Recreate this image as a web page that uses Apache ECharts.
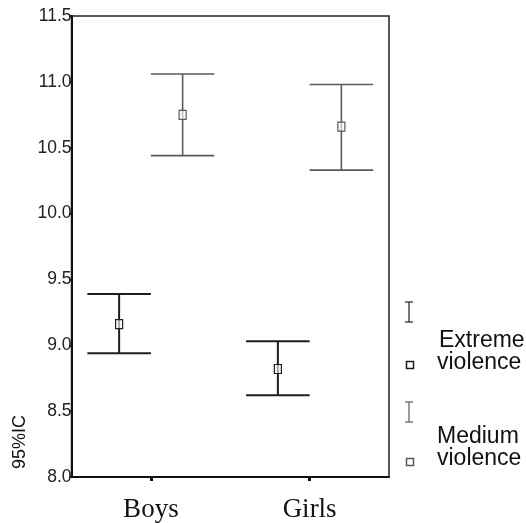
<!DOCTYPE html>
<html>
<head>
<meta charset="utf-8">
<script src="https://cdn.jsdelivr.net/npm/echarts@6/dist/echarts.min.js"></script>
<style>
  html, body { margin: 0; padding: 0; background: #fff; }
  #chart { width: 526px; height: 523px; }
</style>
</head>
<body>
<div id="chart"></div>
<script>
// Groups on the x axis
const categories = ['Boys', 'Girls'];

// Extreme violence: means and 95% confidence limits
const extremeMean = [9.16, 8.82];
const extremeLow = [8.94, 8.62];
const extremeHigh = [9.39, 9.03];

// Medium violence: means and 95% confidence limits
const mediumMean = [10.75, 10.66];
const mediumLow = [10.44, 10.33];
const mediumHigh = [11.06, 10.98];

// Value axis range and step
const yMin = 8.0;
const yMax = 11.5;
const yStep = 0.5;

const extremeColor = '#1e1e1e';
const mediumColor = '#5a5a5a';

function rows(low, high, mean) {
  return categories.map((c, i) => [i, low[i], high[i], mean[i]]);
}

// Error bar with caps and an open square at the mean, shifted inside the band
function makeRenderer(side, color, width) {
  return function (params, api) {
    const cat = api.value(0);
    const band = api.size([1, 0])[0];
    const off = band * 0.2 * side;
    const half = band * 0.2;
    const pHigh = api.coord([cat, api.value(2)]);
    const pLow = api.coord([cat, api.value(1)]);
    const pMean = api.coord([cat, api.value(3)]);
    const x = pHigh[0] + off;
    const st = { stroke: color, lineWidth: width };
    return {
      type: 'group',
      children: [
        { type: 'line', shape: { x1: x, y1: pHigh[1], x2: x, y2: pLow[1] }, style: st },
        { type: 'line', shape: { x1: x - half, y1: pHigh[1], x2: x + half, y2: pHigh[1] }, style: st },
        { type: 'line', shape: { x1: x - half, y1: pLow[1], x2: x + half, y2: pLow[1] }, style: st },
        { type: 'rect', shape: { x: x - 3.5, y: pMean[1] - 4.5, width: 7, height: 9 },
          style: { fill: 'rgba(255,255,255,0.6)', stroke: color, lineWidth: 1.2 } }
      ]
    };
  };
}

// Legend icon: an "I" error bar glyph
function barIcon(x, y1, y2, color) {
  return {
    type: 'group',
    children: [
      { type: 'line', shape: { x1: x, y1: y1, x2: x, y2: y2 }, style: { stroke: color, lineWidth: 1.2 } },
      { type: 'line', shape: { x1: x - 4, y1: y1, x2: x + 4, y2: y1 }, style: { stroke: color, lineWidth: 1.2 } },
      { type: 'line', shape: { x1: x - 4, y1: y2, x2: x + 4, y2: y2 }, style: { stroke: color, lineWidth: 1.2 } }
    ]
  };
}
function squareIcon(x, y, color) {
  return { type: 'rect', shape: { x: x - 3.5, y: y - 3.5, width: 7, height: 7 },
           style: { fill: '#fff', stroke: color, lineWidth: 1.5 } };
}
function legendText(x, y, text) {
  return { type: 'text', x: x, y: y,
           style: { text: text, fill: '#111', font: '23px "Liberation Sans", Arial, sans-serif',
                    textAlign: 'left', textVerticalAlign: 'middle' } };
}

const chart = echarts.init(document.getElementById('chart'));
chart.setOption({
  animation: false,
  backgroundColor: '#fff',
  grid: { left: 71.5, right: 137, top: 16, bottom: 44, show: true, borderColor: '#222', borderWidth: 1.5 },
  xAxis: {
    type: 'category',
    data: categories,
    axisLine: { lineStyle: { color: '#111', width: 2 } },
    axisTick: { show: true, alignWithLabel: true, length: 4, lineStyle: { color: '#111', width: 3 } },
    axisLabel: { color: '#111', fontFamily: '"Liberation Serif", "Times New Roman", serif', fontSize: 27, margin: 19 },
    splitLine: { show: false }
  },
  yAxis: {
    type: 'value',
    min: yMin,
    max: yMax,
    interval: yStep,
    axisLine: { show: true, lineStyle: { color: '#111', width: 2 } },
    axisTick: { show: true, length: 2, lineStyle: { color: '#111', width: 2 } },
    axisLabel: { color: '#222', fontFamily: '"Liberation Sans", Arial, sans-serif', fontSize: 17.5, margin: 0,
                 formatter: v => v.toFixed(1) },
    splitLine: { show: false }
  },
  series: [
    { name: 'Extreme violence', type: 'custom', renderItem: makeRenderer(-1, extremeColor, 2),
      data: rows(extremeLow, extremeHigh, extremeMean), encode: { x: 0, y: [1, 2, 3] }, z: 3 },
    { name: 'Medium violence', type: 'custom', renderItem: makeRenderer(1, mediumColor, 1.6),
      data: rows(mediumLow, mediumHigh, mediumMean), encode: { x: 0, y: [1, 2, 3] }, z: 3 }
  ],
  graphic: [
    { type: 'text', x: 20, y: 442, rotation: Math.PI / 2,
      style: { text: '95%IC', fill: '#111', font: '18px "Liberation Sans", Arial, sans-serif',
               textAlign: 'center', textVerticalAlign: 'middle' } },
    barIcon(409, 302, 322, extremeColor),
    squareIcon(410, 365, extremeColor),
    legendText(439, 341, 'Extreme'),
    legendText(437, 363, 'violence'),
    barIcon(409, 402, 422, mediumColor),
    squareIcon(410, 462, mediumColor),
    legendText(437, 437, 'Medium'),
    legendText(437, 459, 'violence')
  ]
});
</script>
</body>
</html>
